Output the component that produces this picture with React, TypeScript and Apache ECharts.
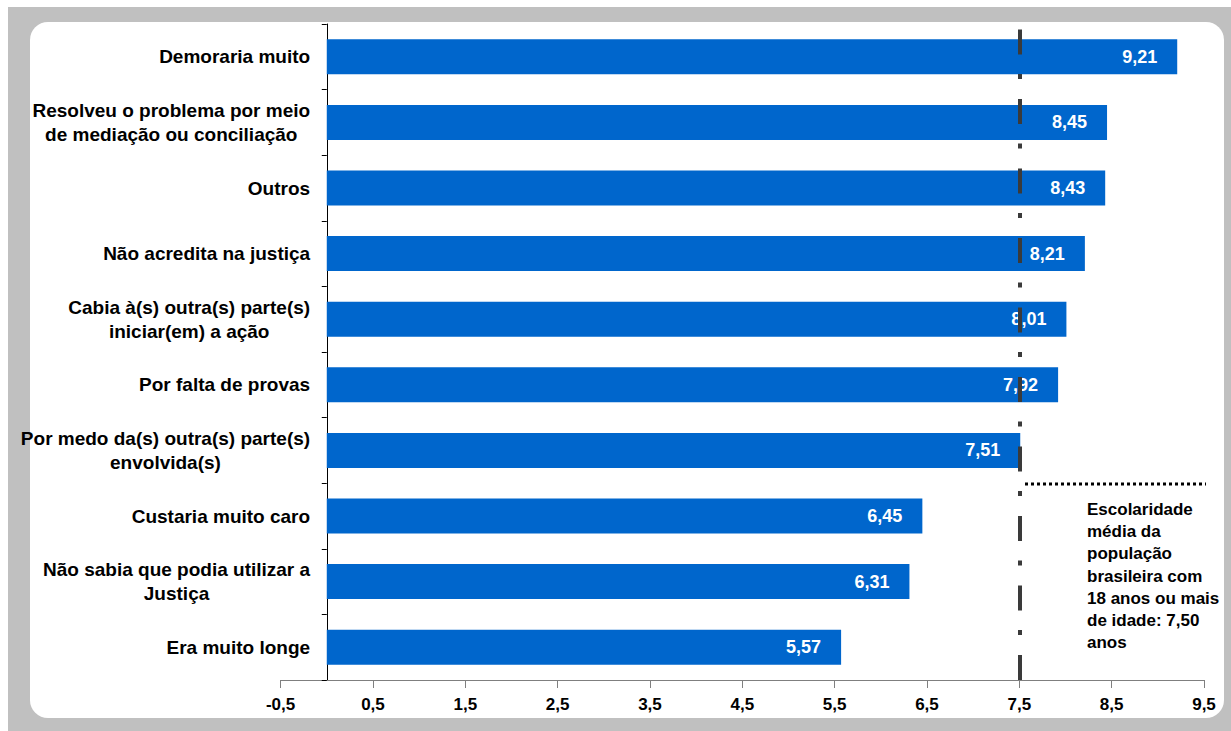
import React, { useEffect, useRef } from "react";
import * as echarts from "echarts";

const categories: string[] = [
  "Demoraria muito",
  "Resolveu o problema por meio\nde mediação ou conciliação",
  "Outros",
  "Não acredita na justiça",
  "Cabia à(s) outra(s) parte(s)\niniciar(em) a ação",
  "Por falta de provas",
  "Por medo da(s) outra(s) parte(s)\nenvolvida(s)",
  "Custaria muito caro",
  "Não sabia que podia utilizar a\nJustiça",
  "Era muito longe",
];

const values: number[] = [9.21, 8.45, 8.43, 8.21, 8.01, 7.92, 7.51, 6.45, 6.31, 5.57];

const referenceValue = 7.5;
const referenceNote =
  "Escolaridade\nmédia da\npopulação\nbrasileira com\n18 anos ou mais\nde idade: 7,50\nanos";

const xMin = -0.5;
const xMax = 9.5;
const xInterval = 1;

const fmt = (v: number, d: number) => v.toFixed(d).replace(".", ",");

export default function App() {
  const ref = useRef<HTMLDivElement>(null);

  useEffect(() => {
    document.body.style.margin = "0";
    if (!ref.current) return;
    const chart = echarts.init(ref.current, undefined, { renderer: "svg" });
    const cats = [...categories].reverse();
    const vals = [...values].reverse();
    const font = "'Liberation Sans', Arial, sans-serif";
    chart.setOption({
      animation: false,
      backgroundColor: "transparent",
      textStyle: { fontFamily: font },
      grid: { left: 280.6, width: 923.4, top: 24, height: 656, containLabel: false },
      xAxis: {
        type: "value",
        min: xMin,
        max: xMax,
        interval: xInterval,
        splitLine: { show: false },
        axisLine: { show: true, lineStyle: { color: "#7f7f7f", width: 1 } },
        axisTick: { show: true, length: 8, lineStyle: { color: "#7f7f7f" } },
        axisLabel: {
          color: "#000",
          fontWeight: "bold",
          fontSize: 17,
          fontFamily: font,
          margin: 16,
          formatter: (v: number) => fmt(v, 1),
        },
      },
      yAxis: {
        type: "category",
        data: cats,
        axisLine: { show: true, onZero: true, lineStyle: { color: "#000", width: 1 } },
        axisTick: { show: true, length: 5, lineStyle: { color: "#000" } },
        axisLabel: {
          margin: -29.5,
          align: "right",
          formatter: (v: string) =>
            v
              .split("\n")
              .map((l) => `{c|${l}}`)
              .join("\n"),
          rich: {
            c: {
              align: "center",
              color: "#000",
              fontWeight: "bold",
              fontSize: 19,
              fontFamily: font,
              lineHeight: 24,
            },
          },
        },
      },
      series: [
        {
          type: "bar",
          data: vals,
          barWidth: 35,
          itemStyle: { color: "#0066cc" },
          label: {
            show: true,
            position: "insideRight",
            distance: 20,
            color: "#fff",
            fontWeight: "bold",
            fontSize: 18,
            fontFamily: font,
            formatter: (p: any) => fmt(p.value, 2),
          },
          markLine: {
            silent: true,
            symbol: ["none", "none"],
            label: { show: false },
            lineStyle: { color: "#3a3a3a", width: 4, type: [25, 20, 5, 19.5] },
            data: [{ xAxis: referenceValue }],
          },
        },
      ],
      graphic: [
        {
          type: "line",
          shape: { x1: 1025, y1: 484, x2: 1206, y2: 484 },
          style: { stroke: "#000", lineWidth: 3, lineDash: [3, 3] },
        },
        {
          type: "text",
          left: 1087,
          top: 498,
          style: {
            text: referenceNote,
            fill: "#000",
            font: `bold 17px ${font}`,
            lineHeight: 22.3,
          },
        },
      ],
    });
    return () => chart.dispose();
  }, []);

  return (
    <div style={{ position: "relative", width: 1231, height: 731, background: "#fff", overflow: "hidden" }}>
      <div style={{ position: "absolute", left: 8, top: 7, right: 0, bottom: 0, background: "#c0c0c0" }} />
      <div
        style={{
          position: "absolute",
          left: 30,
          top: 22,
          width: 1194,
          height: 696,
          background: "#fff",
          borderRadius: 18,
        }}
      />
      <div ref={ref} style={{ position: "absolute", left: 0, top: 0, width: 1231, height: 731 }} />
    </div>
  );
}
